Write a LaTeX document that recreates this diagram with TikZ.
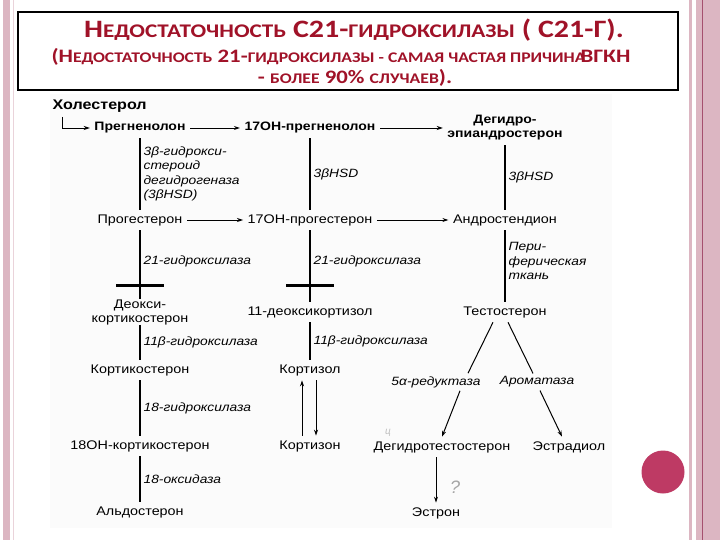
\documentclass[tikz,border=0pt]{standalone}
\usepackage{fontspec}
\setmainfont{Liberation Sans}
\newfontfamily\diagfont[FakeStretch=1.15]{Liberation Sans}
\newfontfamily\titlefont[FakeStretch=1.2]{Carlito}
\usetikzlibrary{arrows.meta}
\definecolor{titlered}{RGB}{160,18,40}
\definecolor{strip}{RGB}{220,182,194}
\definecolor{stripline}{RGB}{165,80,110}
\definecolor{dotpink}{RGB}{190,58,100}
\newcommand\scA[1]{{\fontsize{19.3}{21}\selectfont #1}}
\newcommand\scB[1]{{\fontsize{14.7}{16}\selectfont #1}}

\begin{document}
\begin{tikzpicture}[x=1pt, y=-1pt, node distance=92pt,
    >={Stealth[length=6pt, width=4pt]},
    cmp/.style={font=\diagfont\fontsize{12.5}{14}\selectfont, inner sep=4.5pt, align=center},
    bcmp/.style={cmp, font=\diagfont\bfseries\fontsize{12.2}{14}\selectfont},
    enz/.style={right, font=\diagfont\itshape\fontsize{12}{14.5}\selectfont, align=left, inner sep=3pt},
    ttl/.style={text=titlered, font=\titlefont\bfseries\fontsize{19}{21}\selectfont},
    stem/.style={line width=1.2pt},
    blockbar/.style={line width=2.6pt}]
    \useasboundingbox (0,0) rectangle (720,540);
    \fill[white] (0,0) rectangle (720,540);
    \fill[black!1.5] (50,94) rectangle (612,528);
    % slide border strips
    \fill[strip] (3,0) rectangle (10,540);
    \draw[strip!60, line width=1.5pt] (13.5,0) -- (13.5,540);
    \draw[strip, line width=3pt] (690.5,0) -- (690.5,540);
    \fill[strip] (696,0) rectangle (720,540);
    \draw[stripline, line width=1pt] (702,0) -- (702,540);
    \node[circle, fill=dotpink, minimum size=43pt, inner sep=0pt] (dot) at (663,472) {};

    % title
    \node[draw, line width=1.6pt, minimum width=660pt, minimum height=78pt, inner sep=0pt] (tbox) at (348,51) {};
    \node[ttl, font=\titlefont\bfseries\fontsize{25}{27}\selectfont] (t1) at (354,30)
        {Н\scA{ЕДОСТАТОЧНОСТЬ} С21-\scA{ГИДРОКСИЛАЗЫ} ( С21-Г).};
    \node[ttl] (t2) at (341,57)
        {(Н\scB{ЕДОСТАТОЧНОСТЬ} 21-\scB{ГИДРОКСИЛАЗЫ - САМАЯ ЧАСТАЯ ПРИЧИНА}\hspace{-5pt}ВГКН};
    \node[ttl] (t3) at (355,78) {- \scB{БОЛЕЕ} 90\% \scB{СЛУЧАЕВ}).};

    % compounds
    \node[bcmp, anchor=west, font=\diagfont\bfseries\fontsize{14}{15}\selectfont] (hol) at (48,106) {Холестерол};
    \node[bcmp] (preg) at (140,128) {Прегненолон};
    \node[bcmp, right of=preg, node distance=170pt] (pregoh) {17ОН-прегненолон};
    \node[bcmp, right of=pregoh, node distance=195pt] (dhea) {Дегидро-\\эпиандростерон};
    \node[cmp, below of=preg] (prog) {Прогестерон};
    \node[cmp, below of=pregoh] (progoh) {17ОН-прогестерон};
    \node[cmp, below of=dhea] (andr) {Андростендион};
    \node[cmp, below of=prog, inner ysep=0pt] (doc) {Деокси-\\кортикостерон};
    \node[cmp, below of=progoh] (doxc) {11-деоксикортизол};
    \node[cmp, below of=andr] (test) {Тестостерон};
    \node[cmp, below of=doc, node distance=58pt] (cort) {Кортикостерон};
    \node[cmp, below of=doxc, node distance=58pt] (kzol) {Кортизол};
    \node[cmp, below of=cort, node distance=76pt] (ohc) {18ОН-кортикостерон};
    \node[cmp, below of=kzol, node distance=76pt] (kzon) {Кортизон};
    \node[cmp, below of=ohc, node distance=66pt] (aldo) {Альдостерон};
    \node[cmp, font=\diagfont\itshape\fontsize{12}{14}\selectfont, inner sep=3pt] (red) at (436,382) {5α-редуктаза};
    \node[cmp, font=\diagfont\itshape\fontsize{12}{14}\selectfont, inner sep=3pt] (arom) at (537,382) {Ароматаза};
    \node[cmp] (dht) at (442,447) {Дегидротестостерон};
    \node[cmp] (estd) at (569,447) {Эстрадиол};
    \node[cmp] (estn) at (436,513) {Эстрон};
    % pencil marks
    \node[text=black!35, font=\itshape\fontsize{18}{18}\selectfont] (qm) at (455,487) {?};
    \node[text=black!25, font=\itshape\fontsize{10}{10}\selectfont] (mark) at (388,433) {ц};

    % steps
    \draw[->, line width=0.9pt] ([xshift=14pt]hol.south west) |- (preg);
    \draw[->, line width=0.9pt] (preg) -- (pregoh);
    \draw[->, line width=0.9pt] (pregoh) -- (dhea);
    \draw[->, line width=0.9pt] (prog) -- (progoh);
    \draw[->, line width=0.9pt] (progoh) -- (andr);
    \draw[stem] (preg) -- node[enz] {3β-гидрокси-\\стероид\\дегидрогеназа\\(3βHSD)} (prog);
    \draw[stem] (pregoh) -- node[enz] {3βHSD} (progoh);
    \draw[stem] (dhea) -- node[enz] {3βHSD} (andr);
    \draw[stem] (prog) -- node[enz, pos=0.45] {21-гидроксилаза} coordinate[pos=0.8] (bar1) (doc);
    \draw[stem] (progoh) -- node[enz, pos=0.43] {21-гидроксилаза} coordinate[pos=0.77] (bar2) (doxc);
    \draw[stem] (andr) -- node[enz, pos=0.43] {Пери-\\ферическая\\ткань} (test);
    \draw[stem] (doc) -- node[enz] {11β-гидроксилаза} (cort);
    \draw[stem] (doxc) -- node[enz] {11β-гидроксилаза} (kzol);
    \draw[stem] (cort) -- node[enz] {18-гидроксилаза} (ohc);
    \draw[stem] (ohc) -- node[enz] {18-оксидаза} (aldo);

    % blocked 21-hydroxylase
    \draw[blockbar] ([xshift=-24pt]bar1) -- ([xshift=24pt]bar1);
    \draw[blockbar] ([xshift=-24pt]bar2) -- ([xshift=24pt]bar2);

    % cortisol <-> cortisone
    \draw[->, line width=1pt] ([xshift=-8pt]kzon.north) -- ([xshift=-8pt]kzol.south);
    \draw[->, line width=1pt] ([xshift=6pt]kzol.south) -- ([xshift=6pt]kzon.north);

    % testosterone branches
    \draw[line width=1pt] ([xshift=-12pt]test.south) -- ([xshift=32pt]red.north);
    \draw[line width=1pt] ([xshift=3pt]test.south) -- ([xshift=-4pt]arom.north);
    \draw[->, line width=1pt] ([xshift=24pt]red.south) -- (dht.north);
    \draw[->, line width=1pt] ([xshift=3pt]arom.south) -- ([xshift=-7pt]estd.north);
    \draw[->, line width=1pt] (dht.south -| estn) -- (estn);
\end{tikzpicture}
\end{document}
